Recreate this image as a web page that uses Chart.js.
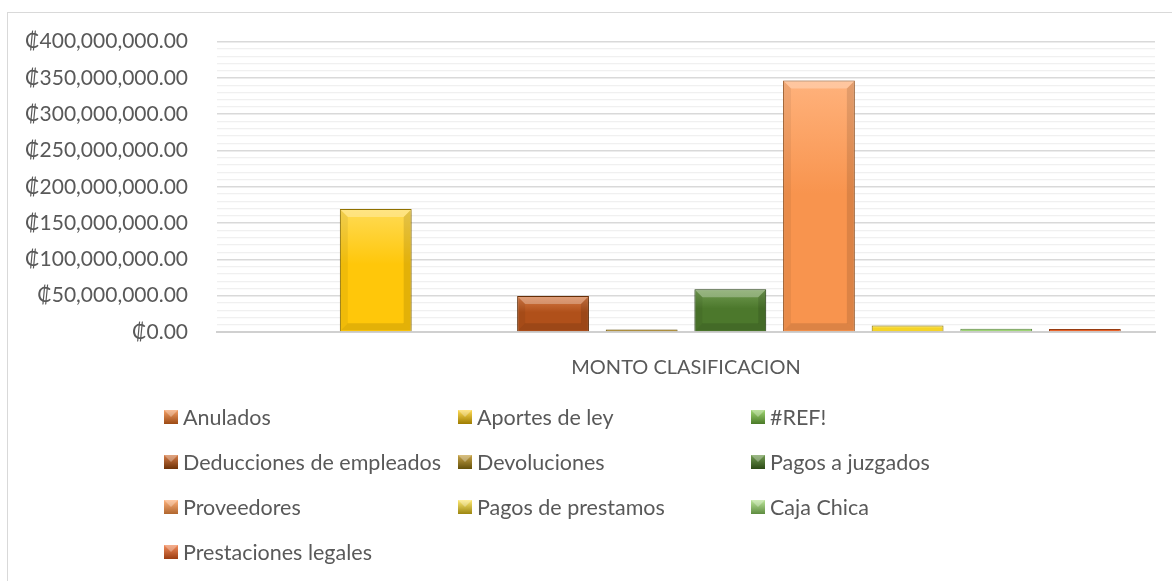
<!DOCTYPE html>
<html>
<head>
<meta charset="utf-8">
<script src="https://cdn.jsdelivr.net/npm/chart.js@4.4.1/dist/chart.umd.min.js"></script>
<style>
  html, body { margin: 0; padding: 0; background: #fff; }
  #wrap { width: 1172px; height: 581px; }
</style>
</head>
<body>
<div id="wrap"><canvas id="chart" width="1172" height="581"></canvas></div>
<script>
const categories = ['MONTO CLASIFICACION'];
const seriesNames = [
  'Anulados', 'Aportes de ley', '#REF!',
  'Deducciones de empleados', 'Devoluciones', 'Pagos a juzgados',
  'Proveedores', 'Pagos de prestamos', 'Caja Chica',
  'Prestaciones legales'
];
const seriesValues = [0, 169500000, 0, 49500000, 3500000, 59000000, 346500000, 9000000, 4500000, 4000000];
const yMax = 400000000;
const yStep = 10000000;
const yLabelStep = 50000000;

// base, light, dark
const palette = [
  ['#e8782c', '#f5a066', '#9c4a14'],
  ['#ffc70a', '#ffdb55', '#9e7c00'],
  ['#78b94a', '#a0d672', '#4a7a28'],
  ['#b0501a', '#d67c48', '#6e3208'],
  ['#a07812', '#c8a448', '#64500a'],
  ['#4c782c', '#729c52', '#2c4a16'],
  ['#f8944e', '#ffb27c', '#b0662e'],
  ['#f5d428', '#ffea74', '#9c8610'],
  ['#9ed476', '#bce69a', '#5e8c40'],
  ['#e8632a', '#f38c5c', '#9c3e12']
];

const FONT = 'Lato, "Open Sans", "DejaVu Sans", sans-serif';
const TEXT = '#595959';

function fmt(v) {
  return '\u20A1' + v.toLocaleString('en-US', { minimumFractionDigits: 2, maximumFractionDigits: 2 });
}

function barFill(i) {
  return (ctx) => {
    const chart = ctx.chart;
    const y = chart.scales.y;
    if (!y || !chart.chartArea) return palette[i][0];
    const top = y.getPixelForValue(seriesValues[i]);
    const base = y.getPixelForValue(0);
    if (!(base > top)) return palette[i][0];
    const g = chart.ctx.createLinearGradient(0, top, 0, base);
    g.addColorStop(0, palette[i][1]);
    g.addColorStop(0.45, palette[i][0]);
    g.addColorStop(1, palette[i][0]);
    return g;
  };
}

const datasets = seriesNames.map((name, i) => ({
  label: name,
  data: [seriesValues[i]],
  backgroundColor: barFill(i),
  borderColor: palette[i][2],
  borderWidth: 1,
  categoryPercentage: 0.945,
  barPercentage: 0.81
}));

const frame = {
  id: 'frame',
  beforeDraw(chart) {
    const c = chart.ctx;
    c.save();
    c.fillStyle = '#fff';
    c.fillRect(0, 0, chart.width, chart.height);
    c.strokeStyle = '#d9d9d9';
    c.lineWidth = 1;
    c.strokeRect(7.5, 12.5, 1300, 700);
    c.restore();
  }
};

const bevel = {
  id: 'bevel',
  beforeDatasetDraw(chart) {
    const c = chart.ctx;
    c.save();
    c.shadowColor = 'rgba(0,0,0,0.28)';
    c.shadowBlur = 6;
    c.shadowOffsetY = 1;
  },
  afterDatasetDraw(chart, args) {
    const c = chart.ctx;
    c.restore();
    args.meta.data.forEach((el) => {
      const { x, y, base, width } = el.getProps(['x', 'y', 'base', 'width'], true);
      const h = base - y;
      if (h < 14) return;
      const l = x - width / 2 + 1, r = x + width / 2 - 1, t = y + 1, b = base - 1;
      const s = 7;
      c.save();
      c.fillStyle = 'rgba(255,255,255,0.28)';
      c.beginPath(); c.moveTo(l, t); c.lineTo(r, t); c.lineTo(r - s, t + s); c.lineTo(l + s, t + s); c.closePath(); c.fill();
      c.fillStyle = 'rgba(0,0,0,0.11)';
      c.beginPath(); c.moveTo(l, b); c.lineTo(r, b); c.lineTo(r - s, b - s); c.lineTo(l + s, b - s); c.closePath(); c.fill();
      c.fillStyle = 'rgba(0,0,0,0.06)';
      c.beginPath(); c.moveTo(l, t); c.lineTo(l + s, t + s); c.lineTo(l + s, b - s); c.lineTo(l, b); c.closePath(); c.fill();
      c.fillStyle = 'rgba(0,0,0,0.11)';
      c.beginPath(); c.moveTo(r, t); c.lineTo(r - s, t + s); c.lineTo(r - s, b - s); c.lineTo(r, b); c.closePath(); c.fill();
      c.restore();
    });
  }
};

// legend drawn as a 3-column grid like the spreadsheet one
const gridLegend = {
  id: 'gridLegend',
  afterDraw(chart) {
    const c = chart.ctx;
    const cols = [164, 458, 751];
    const rowY = 417, rowGap = 45, box = 14;
    c.save();
    c.font = '21.5px ' + FONT;
    c.textBaseline = 'middle';
    c.fillStyle = TEXT;
    chart.data.datasets.forEach((ds, i) => {
      const bx = cols[i % 3];
      const by = rowY + Math.floor(i / 3) * rowGap;
      const g = c.createLinearGradient(0, by - box / 2, 0, by + box / 2);
      g.addColorStop(0, palette[i][1]);
      g.addColorStop(1, palette[i][2]);
      c.fillStyle = g;
      c.fillRect(bx, by - box / 2, box, box);
      c.fillStyle = 'rgba(255,255,255,0.3)';
      c.beginPath();
      c.moveTo(bx, by - box / 2); c.lineTo(bx + box, by - box / 2); c.lineTo(bx + box / 2, by); c.closePath(); c.fill();
      c.fillStyle = TEXT;
      c.fillText(ds.label, bx + box + 5, by + 1);
    });
    c.restore();
  }
};

new Chart(document.getElementById('chart'), {
  type: 'bar',
  data: { labels: categories, datasets },
  options: {
    responsive: false,
    animation: false,
    layout: { padding: { top: 41, right: 17, bottom: 200, left: 0 } },
    plugins: { legend: { display: false }, tooltip: { enabled: false } },
    scales: {
      x: {
        grid: { display: false },
        border: { display: true, color: '#d0d0d0', width: 2 },
        ticks: { color: TEXT, font: { family: FONT, size: 20 }, padding: 16 },
        afterFit(scale) { scale.height = 49; }
      },
      y: {
        min: 0,
        max: yMax,
        border: { display: false },
        grid: {
          drawTicks: false,
          color: (ctx) => (ctx.tick && ctx.tick.value % yLabelStep === 0) ? '#d9d9d9' : '#f0f0f0',
          lineWidth: (ctx) => (ctx.tick && ctx.tick.value % yLabelStep === 0) ? 1.5 : 1.2
        },
        ticks: {
          stepSize: yStep,
          autoSkip: false,
          padding: 29,
          color: TEXT,
          font: { family: FONT, size: 21 },
          callback: (v) => (v % yLabelStep === 0 ? fmt(v) : '')
        },
        afterFit(scale) { scale.width = 217; }
      }
    }
  },
  plugins: [frame, bevel, gridLegend]
});
</script>
</body>
</html>
